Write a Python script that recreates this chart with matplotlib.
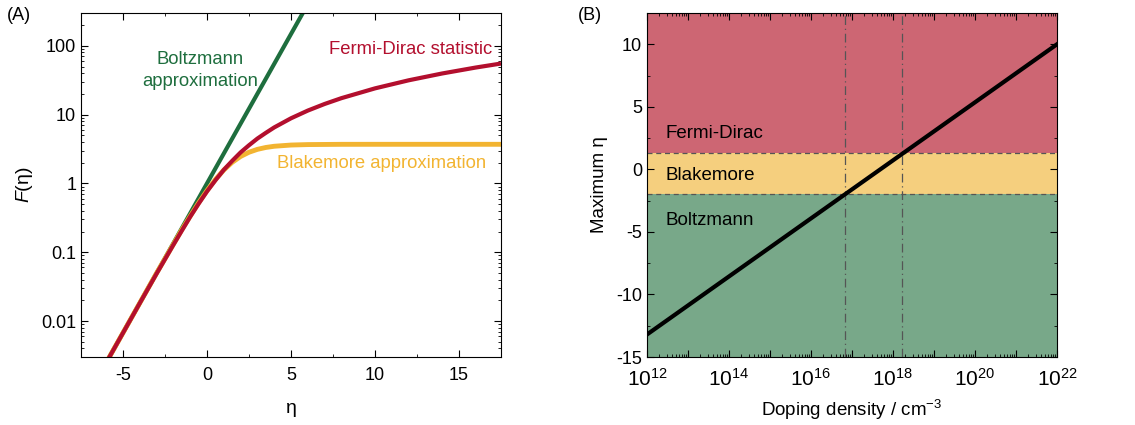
import numpy as np
import matplotlib.pyplot as plt
from matplotlib.ticker import FixedLocator, LogLocator, FuncFormatter, MultipleLocator, NullFormatter

plt.rcParams['font.family'] = ['Liberation Sans', 'DejaVu Sans']
plt.rcParams['font.size'] = 13
plt.rcParams['axes.unicode_minus'] = False
plt.rcParams['mathtext.fontset'] = 'custom'
plt.rcParams['mathtext.rm'] = 'Liberation Sans'
plt.rcParams['mathtext.it'] = 'Liberation Sans:italic'

# (A) occupation integrals vs reduced Fermi level
eta_boltz = [-6.0, 5.7]
F_boltz = [0.00248, 299.0]

eta_blake = [-6, -5, -4, -3, -2, -1.5, -1, -0.5, 0, 0.5, 1, 1.5, 2, 2.5, 3, 3.5, 4, 5, 6, 8, 10, 12, 17.5]
F_blake = [0.00248, 0.00674, 0.0183, 0.0497, 0.1306, 0.2119, 0.3347, 0.5212, 0.787, 1.141, 1.567,
           2.028, 2.467, 2.840, 3.127, 3.331, 3.469, 3.614, 3.670, 3.701, 3.703, 3.704, 3.704]

eta_fd = [-6, -5, -4, -3, -2, -1.5, -1, -0.5, 0, 0.5, 1, 1.5, 2, 2.5, 3, 3.5, 4, 5, 6, 7, 8, 10, 12, 14, 16, 17.5]
F_fd = [0.00248, 0.00672, 0.0182, 0.0489, 0.1283, 0.2056, 0.3278, 0.507, 0.765, 1.11, 1.576,
        2.13, 2.824, 3.59, 4.488, 5.43, 6.512, 8.844, 11.45, 14.28, 17.35, 24.08, 31.53, 39.64, 48.37, 55.28]

# (B) maximum eta vs doping density
doping = [1e12, 1e22]
eta_max = [-13.2, 10.0]
eta_fd_limit = 1.3
eta_boltz_limit = -2.0
doping_limits = [6.7e16, 1.7e18]

green = '#1e6e3e'
red = '#b30f2e'
orange = '#f2b431'

fig = plt.figure(figsize=(11.35, 4.25), dpi=100)
ax1 = fig.add_axes([81 / 1135, 1 - 357 / 425, 420 / 1135, 344 / 425])
ax2 = fig.add_axes([647 / 1135, 1 - 357 / 425, 410 / 1135, 344 / 425])

for ax in (ax1, ax2):
    ax.tick_params(which='both', direction='in', top=True, right=True, labelsize=13)
    ax.tick_params(which='major', length=5, width=0.8)
    ax.tick_params(which='minor', length=2.5, width=0.6)
    ax.tick_params(axis='x', which='major', pad=7)

# left panel
ax1.plot(eta_boltz, F_boltz, color=green, lw=3, solid_capstyle='butt')
ax1.plot(eta_blake, F_blake, color=orange, lw=3.5, solid_capstyle='butt')
ax1.plot(eta_fd, F_fd, color=red, lw=3, solid_capstyle='butt')
ax1.set_yscale('log')
ax1.set_xlim(-7.5, 17.5)
ax1.set_ylim(0.003, 300)
ax1.xaxis.set_major_locator(MultipleLocator(5))
ax1.xaxis.set_minor_locator(MultipleLocator(2.5))
ax1.yaxis.set_major_locator(FixedLocator([0.01, 0.1, 1, 10, 100]))
ax1.yaxis.set_major_formatter(FuncFormatter(lambda v, p: f'{v:g}'))
ax1.yaxis.set_minor_locator(LogLocator(base=10, subs=np.arange(2, 10), numticks=50))
ax1.yaxis.set_minor_formatter(NullFormatter())
ax1.set_xlabel('η', fontsize=14, labelpad=12)
ax1.set_ylabel(r'$\mathit{F}$(η)', fontsize=14, labelpad=4)

ax1.text(-0.4, 44, 'Boltzmann\napproximation', color=green, fontsize=13.3,
         ha='center', va='center', linespacing=1.4)
ax1.text(17.0, 87, 'Fermi-Dirac statistic', color=red, fontsize=13.3, ha='right', va='center')
ax1.text(16.6, 1.93, 'Blakemore approximation', color=orange, fontsize=13.3, ha='right', va='center')
fig.text(7 / 1135, 1 - 15 / 425, '(A)', fontsize=13, va='center')

# right panel
ax2.set_xscale('log')
ax2.set_xlim(1e12, 1e22)
ax2.set_ylim(-15, 12.5)
ax2.axhspan(eta_fd_limit, 12.5, color='#cd6673', lw=0)
ax2.axhspan(eta_boltz_limit, eta_fd_limit, color='#f5cf7e', lw=0)
ax2.axhspan(-15, eta_boltz_limit, color='#78a889', lw=0)
for lim in (eta_fd_limit, eta_boltz_limit):
    ax2.axhline(lim, color='#555555', lw=0.9, ls=(0, (4, 3)))
for d in doping_limits:
    ax2.axvline(d, color='#555555', lw=0.9, ls=(0, (7, 3, 1, 3)))
ax2.plot(doping, eta_max, color='black', lw=3)

ax2.xaxis.set_major_locator(FixedLocator([10.0 ** k for k in range(12, 23)]))
ax2.xaxis.set_major_formatter(FuncFormatter(
    lambda v, p: f'$10^{{{int(round(np.log10(v)))}}}$' if int(round(np.log10(v))) % 2 == 0 else ''))
ax2.xaxis.set_minor_locator(LogLocator(base=10, subs=np.arange(2, 10), numticks=100))
ax2.xaxis.set_minor_formatter(NullFormatter())
ax2.tick_params(axis='x', which='major', labelsize=15, pad=8)
ax2.yaxis.set_major_locator(MultipleLocator(5))
ax2.yaxis.set_minor_locator(MultipleLocator(2.5))
ax2.set_xlabel('Doping density / cm$^{-3}$', fontsize=13.5, labelpad=6)
ax2.set_ylabel('Maximum η', fontsize=13.5, labelpad=6)

ax2.text(2.75e12, 2.84, 'Fermi-Dirac', fontsize=13.5, va='center')
ax2.text(2.75e12, -0.46, 'Blakemore', fontsize=13.5, va='center')
ax2.text(2.75e12, -4.1, 'Boltzmann', fontsize=13.5, va='center')
fig.text(578 / 1135, 1 - 15 / 425, '(B)', fontsize=13, va='center')

fig.savefig('out.png', dpi=100)
